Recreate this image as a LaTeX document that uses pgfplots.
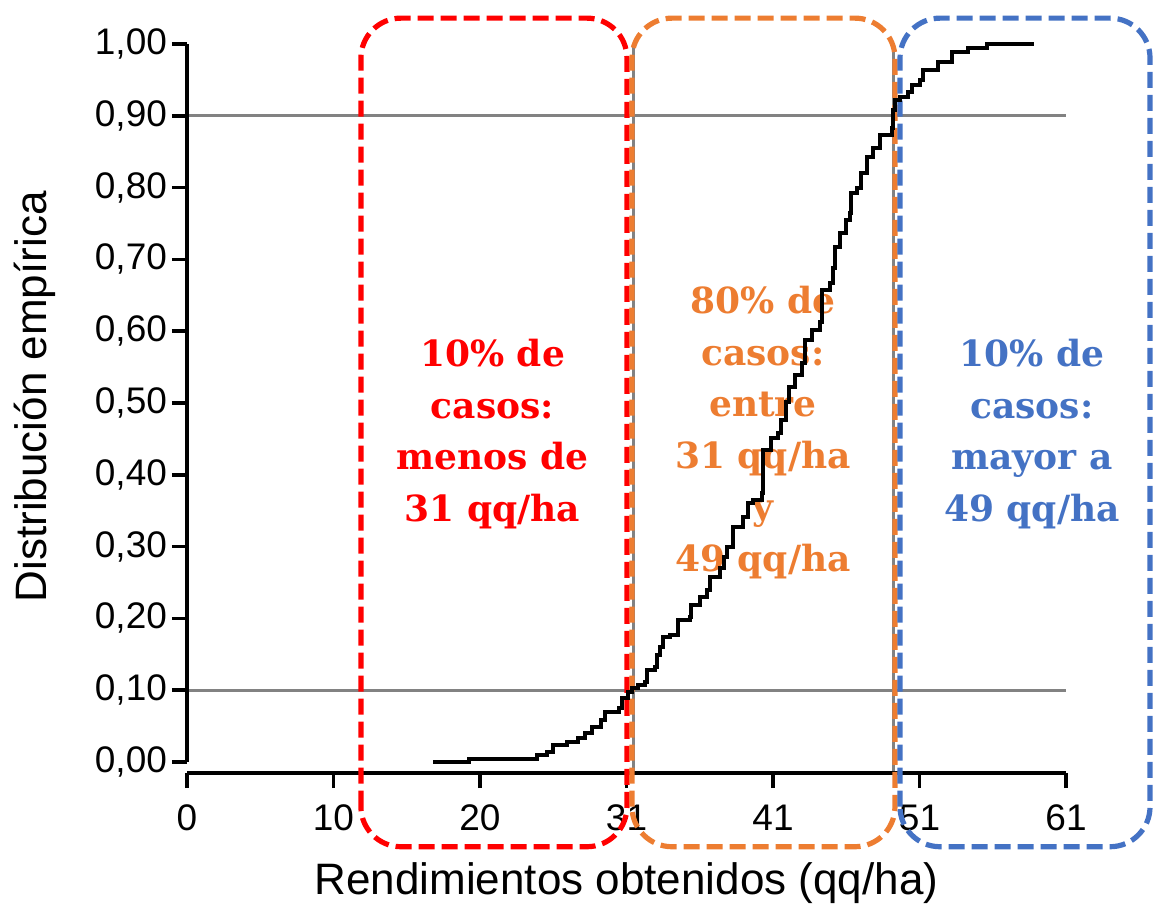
\documentclass[border=0pt]{standalone}
\usepackage{pgfplots}
\pgfplotsset{compat=1.18}
\usepackage{pgfplotstable}
\usepackage{fontspec}
\setmainfont{Liberation Sans}
\newfontfamily\boxfont{DejaVu Serif}

\definecolor{boxred}{RGB}{255,0,0}
\definecolor{boxorange}{RGB}{237,125,49}
\definecolor{boxblue}{RGB}{68,114,196}
\definecolor{refgray}{RGB}{130,130,130}

\pgfplotstableread{
x y
17.1 0.000
19.6 0.004
24.3 0.010
25.0 0.014
25.4 0.024
26.4 0.028
27.1 0.033
27.6 0.040
28.1 0.049
28.7 0.058
29.0 0.070
30.0 0.075
30.2 0.089
30.6 0.097
30.9 0.103
31.3 0.107
31.8 0.111
31.9 0.128
32.5 0.132
32.6 0.149
32.8 0.160
33.0 0.174
33.5 0.177
34.1 0.198
34.9 0.202
35.0 0.219
35.6 0.230
36.1 0.240
36.3 0.258
37.0 0.270
37.3 0.285
37.5 0.299
37.9 0.327
38.6 0.341
38.9 0.361
39.3 0.365
39.9 0.375
40.0 0.435
40.5 0.451
41.0 0.458
41.2 0.476
41.6 0.501
41.8 0.522
42.2 0.539
42.7 0.556
42.9 0.588
43.4 0.602
43.9 0.613
44.1 0.657
44.6 0.667
44.8 0.688
45.0 0.717
45.3 0.737
45.7 0.755
46.0 0.765
46.1 0.792
46.5 0.799
46.8 0.820
47.2 0.843
47.6 0.855
48.1 0.873
48.9 0.883
49.0 0.908
49.1 0.922
49.5 0.926
50.0 0.933
50.3 0.943
50.9 0.950
51.1 0.964
52.1 0.975
53.1 0.989
54.2 0.994
55.5 1.000
58.8 1.000
}\ecdf

\begin{document}
\begin{tikzpicture}
\useasboundingbox (-93.5pt,-68pt) rectangle (483.5pt,386.5pt);
\begin{axis}[
  at={(0pt,0pt)}, anchor=south west,
  scale only axis, width=439.5pt, height=364.5pt,
  xmin=0, xmax=61, ymin=-0.01532, ymax=1,
  axis x line*=bottom, axis y line*=left,
  axis line style={draw=none},
  clip=false,
  tick align=outside, major tick length=7.5pt,
  tick style={black, line width=1.8pt},
  xtick={0,10.1667,20.3333,30.5,40.6667,50.8333,61},
  xticklabels={0,10,20,31,41,51,61},
  ytick={0,0.1,0.2,0.3,0.4,0.5,0.6,0.7,0.8,0.9,1.0},
  yticklabels={{0,00},{0,10},{0,20},{0,30},{0,40},{0,50},{0,60},{0,70},{0,80},{0,90},{1,00}},
  ticklabel style={font=\fontsize{18.5}{22}\selectfont},
  xticklabel style={yshift=-5pt},
  yticklabel style={xshift=1pt},
  xlabel={Rendimientos obtenidos (qq/ha)},
  ylabel={Distribución empírica},
  label style={font=\fontsize{22}{26}\selectfont},
  xlabel style={at={(axis description cs:0.5,0)}, anchor=center, yshift=-55pt},
  ylabel style={at={(axis description cs:-0.173,0.516)}, anchor=center},
]
\draw[refgray, line width=1.5pt] (axis cs:0,0.1) -- (axis cs:61,0.1);
\draw[refgray, line width=1.5pt] (axis cs:0,0.9) -- (axis cs:61,0.9);
\draw[refgray, line width=1.5pt] (axis cs:31,-0.01532) -- (axis cs:31,1);
\draw[refgray, line width=1.5pt] (axis cs:49,-0.01532) -- (axis cs:49,1);

\draw[black, line width=1.8pt] (axis cs:0,0) -- (axis cs:0,1);
\draw[black, line width=1.8pt] (axis cs:0,-0.01532) -- (axis cs:61,-0.01532);

\draw[boxred, line width=2.6pt, dash pattern=on 8pt off 3.5pt, rounded corners=20pt]
  (axis cs:12.07,-0.118) rectangle (axis cs:30.53,1.036);
\draw[boxorange, line width=2.6pt, dash pattern=on 8pt off 3.5pt, rounded corners=20pt]
  (axis cs:30.88,-0.118) rectangle (axis cs:49.13,1.036);
\draw[boxblue, line width=2.6pt, dash pattern=on 8pt off 3.5pt, rounded corners=20pt]
  (axis cs:49.48,-0.118) rectangle (axis cs:66.83,1.036);

\node[text=boxred, align=center, font=\boxfont\bfseries\fontsize{18}{25.75}\selectfont]
  at (axis cs:21.2,0.457) {10\% de\\casos:\\menos de\\31 qq/ha};
\node[text=boxorange, align=center, font=\boxfont\bfseries\fontsize{18}{25.75}\selectfont]
  at (axis cs:39.97,0.459) {80\% de\\casos:\\entre\\31 qq/ha\\y\\49 qq/ha};
\node[text=boxblue, align=center, font=\boxfont\bfseries\fontsize{18}{25.75}\selectfont]
  at (axis cs:58.64,0.457) {10\% de\\casos:\\mayor a\\49 qq/ha};

\addplot[const plot, black, line width=2pt, mark=none] table {\ecdf};
\end{axis}
\end{tikzpicture}
\end{document}
